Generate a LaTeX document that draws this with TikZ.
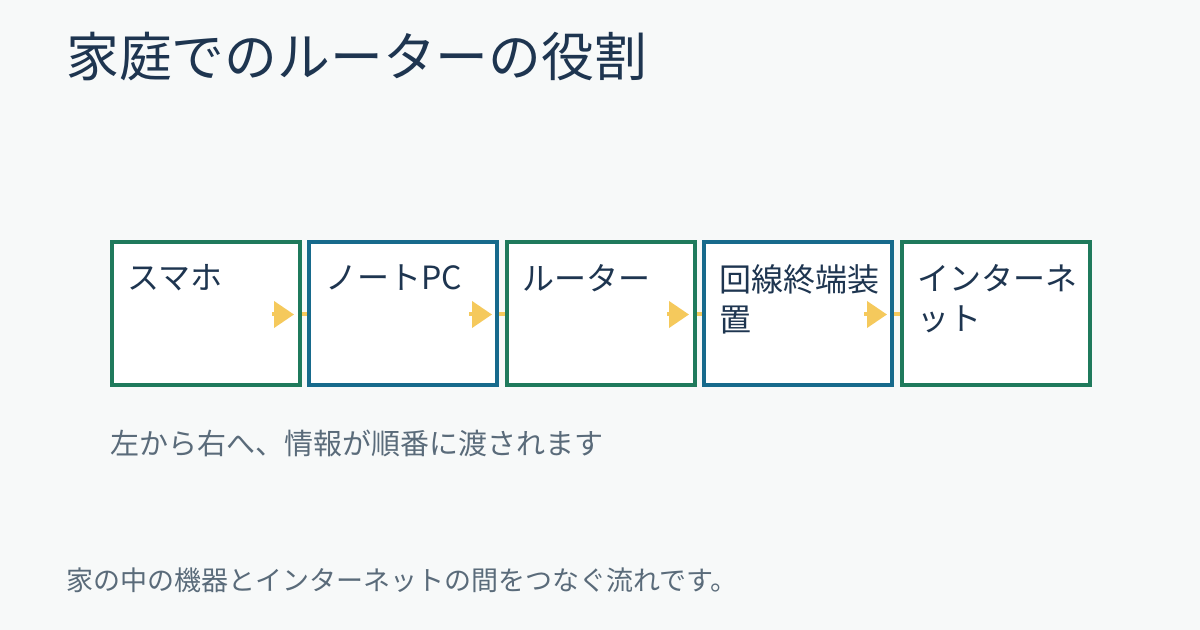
\documentclass[tikz,border=0pt]{standalone}
\usepackage{fontspec}
\setmainfont{Noto Sans CJK JP}
\usetikzlibrary{positioning,arrows.meta}
\definecolor{bgc}{HTML}{F7F9F9}
\definecolor{ink}{HTML}{1E3550}
\definecolor{grn}{HTML}{1F7A5C}
\definecolor{blu}{HTML}{176A8C}
\definecolor{gry}{HTML}{5A6B7A}
\definecolor{ylw}{HTML}{F5C95C}
\tikzset{
  step/.style={draw=#1, line width=2pt, fill=white, minimum width=94pt, minimum height=71.5pt,
    inner sep=0pt, anchor=north west},
  lbl/.style={anchor=north west, text width=86pt, align=left, inner sep=0pt,
    font=\fontsize{16pt}{20pt}\selectfont, text=ink},
  link/.style={draw=ylw, line width=2pt},
  tip/.style={draw=ylw, line width=2pt, -{Triangle[length=10pt,width=13pt,fill=ylw]}},
}
\begin{document}
\begin{tikzpicture}[x=0.5pt,y=-0.5pt]
\fill[bgc] (0,0) rectangle (1200,630);
\useasboundingbox (0,0) rectangle (1200,630);
\node[anchor=west, inner sep=0pt, text=ink, font=\fontsize{26.4pt}{30pt}\selectfont] (title) at (66,57) {家庭でのルーターの役割};
% boxes
\node[step=grn] (s1) at (110,240) {};
\node[step=blu] (s2) at (307,240) {};
\node[step=grn] (s3) at (505,240) {};
\node[step=blu] (s4) at (702,240) {};
\node[step=grn] (s5) at (900,240) {};
\node[lbl] at (127,264) {スマホ};
\node[lbl] at (325,264) {ノートPC};
\node[lbl] at (522,264) {ルーター};
\node[lbl] at (719,264) {回線終端装\\置};
\node[lbl] at (917,264) {インターネ\\ット};
% arrows
\foreach \a/\b in {s1/s2,s2/s3,s3/s4,s4/s5}{
  \draw[link] ([yshift=-0.5pt]\a.east) -- ([yshift=-0.5pt]\b.west);
  \draw[tip] ([xshift=-15pt,yshift=-0.5pt]\a.east) -- ([xshift=-6.5pt,yshift=-0.5pt]\b.west);
}
\node[anchor=west, inner sep=0pt, text=gry, font=\fontsize{14.5pt}{18pt}\selectfont] (note) at (110,443) {左から右へ、情報が順番に渡されます};
\node[anchor=west, inner sep=0pt, text=gry, font=\fontsize{13.5pt}{16pt}\selectfont] (foot) at (66,580) {家の中の機器とインターネットの間をつなぐ流れです。};
\end{tikzpicture}
\end{document}
